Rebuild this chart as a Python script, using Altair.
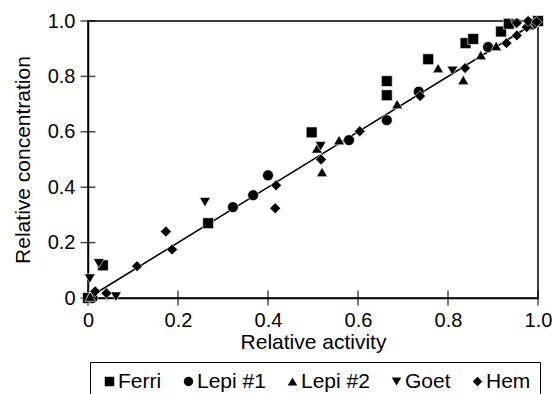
import altair as alt
import pandas as pd

# ---- data ----
series_names = ["Ferri", "Lepi #1", "Lepi #2", "Goet", "Hem"]

ferri_x = [0.0, 0.033, 0.267, 0.497, 0.664, 0.664, 0.756, 0.839, 0.856, 0.918, 0.935, 1.0]
ferri_y = [0.0, 0.118, 0.27, 0.598, 0.732, 0.783, 0.862, 0.92, 0.935, 0.962, 0.99, 1.0]

lepi1_x = [0.01, 0.322, 0.367, 0.40, 0.58, 0.664, 0.735, 0.889, 0.99]
lepi1_y = [0.0, 0.328, 0.371, 0.443, 0.57, 0.642, 0.745, 0.906, 0.99]

lepi2_x = [0.005, 0.509, 0.52, 0.558, 0.687, 0.778, 0.834, 0.873, 0.907, 0.98]
lepi2_y = [0.005, 0.54, 0.455, 0.57, 0.70, 0.83, 0.787, 0.877, 0.91, 0.985]

goet_x = [0.004, 0.024, 0.062, 0.26, 0.517, 0.81, 0.95]
goet_y = [0.07, 0.125, 0.005, 0.346, 0.548, 0.82, 0.99]

hem_x = [0.016, 0.041, 0.109, 0.173, 0.187, 0.416, 0.418, 0.518, 0.604, 0.738,
         0.838, 0.93, 0.953, 0.953, 0.975, 0.978, 0.997]
hem_y = [0.024, 0.017, 0.115, 0.24, 0.175, 0.324, 0.407, 0.50, 0.602, 0.729,
         0.83, 0.92, 0.948, 0.993, 0.978, 1.0, 0.997]

line_x = [0.0, 1.0]
line_y = [0.0, 1.0]

tick_values = [0.0, 0.2, 0.4, 0.6, 0.8, 1.0]

shapes = ["square", "circle", "triangle-up", "triangle-down", "diamond"]

# ---- build tables ----
rows = []
for name, xs, ys in zip(series_names,
                        [ferri_x, lepi1_x, lepi2_x, goet_x, hem_x],
                        [ferri_y, lepi1_y, lepi2_y, goet_y, hem_y]):
    for a, b in zip(xs, ys):
        rows.append({"series": name, "x": a, "y": b})
pts = pd.DataFrame(rows)
line_df = pd.DataFrame({"x": line_x, "y": line_y})
ticks_df = pd.DataFrame({"v": tick_values})

FONT = "Liberation Sans"
label_expr = "datum.value == 0 ? '0' : format(datum.value, '.1f')"

xscale = alt.Scale(domain=[0, 1], nice=False)
yscale = alt.Scale(domain=[0, 1], nice=False)

line = alt.Chart(line_df).mark_line(color="black", strokeWidth=1.6).encode(
    x=alt.X("x:Q", scale=xscale,
            axis=alt.Axis(title="Relative activity", values=tick_values,
                          labelExpr=label_expr, ticks=False, labelPadding=12,
                          labelFlush=False, titlePadding=1)),
    y=alt.Y("y:Q", scale=yscale,
            axis=alt.Axis(title="Relative concentration", values=tick_values,
                          labelExpr=label_expr, ticks=False, labelPadding=13,
                          labelFlush=False, titlePadding=14)),
)

xticks = alt.Chart(ticks_df).mark_tick(orient="vertical", size=15, thickness=1.5,
                                       color="black").encode(
    x=alt.X("v:Q", scale=xscale),
    y=alt.datum(0),
)
yticks = alt.Chart(ticks_df).mark_tick(orient="horizontal", size=15, thickness=1.5,
                                       color="black").encode(
    y=alt.Y("v:Q", scale=yscale),
    x=alt.datum(0),
)

points = alt.Chart(pts).mark_point(filled=True, opacity=1, stroke="white",
                                   strokeWidth=0.6, size=118).encode(
    x=alt.X("x:Q", scale=xscale),
    y=alt.Y("y:Q", scale=yscale),
    shape=alt.Shape("series:N",
                    scale=alt.Scale(domain=series_names, range=shapes),
                    sort=series_names,
                    legend=alt.Legend(title=None, orient="none", direction="horizontal",
                                      columns=5, gridAlign="none",
                                      legendX=2, legendY=341,
                                      strokeColor="black", padding=9,
                                      symbolFillColor="black", symbolStrokeWidth=0,
                                      symbolSize=90, labelFontSize=21, labelFont=FONT,
                                      labelColor="black", labelOffset={"expr": "-2"},
                                      columnPadding=16, symbolOffset=0)),
    color=alt.value("black"),
)

chart = alt.layer(line, xticks, yticks, points).properties(
    width=450, height=277,
    autosize=alt.AutoSizeParams(type="none"),
    padding={"left": 88, "top": 21, "right": 14, "bottom": 96},
).configure_view(
    stroke="black", strokeWidth=1.5
).configure_axis(
    domainColor="black", domainWidth=1.5, grid=False,
    labelFont=FONT, labelFontSize=20, labelColor="black",
    titleFont=FONT, titleFontSize=21, titleColor="black", titleFontWeight="normal",
)

chart.save("out.html", embed_options={"renderer": "svg", "actions": False})
